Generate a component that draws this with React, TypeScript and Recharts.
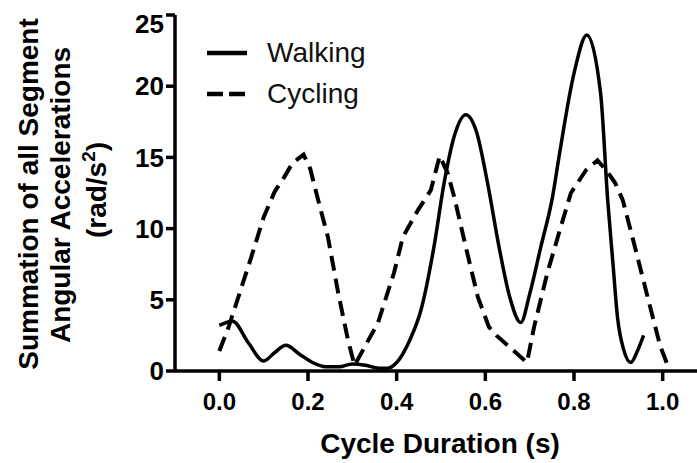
import React from "react";
import { LineChart, Line, XAxis, YAxis } from "recharts";

const walkingX = [0.0, 0.03, 0.065, 0.1, 0.125, 0.15, 0.18, 0.21, 0.24, 0.27, 0.3, 0.33, 0.36, 0.38, 0.4, 0.43, 0.455, 0.484, 0.507, 0.53, 0.556, 0.58, 0.605, 0.631, 0.655, 0.68, 0.7, 0.725, 0.752, 0.766, 0.8, 0.829, 0.86, 0.876, 0.888, 0.898, 0.912, 0.928, 0.943, 0.957];
const walkingY = [3.2, 3.5, 2.0, 0.7, 1.3, 1.8, 1.2, 0.6, 0.3, 0.3, 0.5, 0.4, 0.2, 0.2, 0.6, 2.2, 4.3, 8.7, 13.2, 16.5, 18.0, 16.8, 13.2, 8.7, 5.2, 3.4, 5.4, 8.7, 12.3, 15.0, 20.9, 23.6, 19.5, 12.0, 7.5, 3.8, 1.5, 0.6, 1.4, 2.5];

const cyclingX = [0.0, 0.02, 0.043, 0.072, 0.1, 0.125, 0.146, 0.165, 0.19, 0.205, 0.223, 0.245, 0.268, 0.29, 0.305, 0.358, 0.394, 0.414, 0.448, 0.477, 0.497, 0.515, 0.53, 0.556, 0.583, 0.608, 0.625, 0.694, 0.71, 0.74, 0.77, 0.793, 0.827, 0.853, 0.875, 0.893, 0.91, 0.935, 0.966, 0.995, 1.01];
const cyclingY = [1.4, 3.0, 5.2, 8.0, 10.8, 12.6, 13.6, 14.6, 15.2, 14.2, 12.0, 9.4, 5.5, 2.2, 0.4, 3.4, 6.9, 9.4, 11.3, 12.7, 15.1, 13.9, 12.2, 8.7, 5.2, 3.1, 2.5, 0.6, 3.1, 6.9, 10.1, 12.5, 14.1, 14.8, 14.0, 13.2, 12.0, 9.0, 5.2, 1.7, 0.5];

const xTicks = [0, 0.2, 0.4, 0.6, 0.8, 1.0];
const yTicks = [0, 5, 10, 15, 20, 25];

const walking = walkingX.map((x, i) => ({ x, y: walkingY[i] }));
const cycling = cyclingX.map((x, i) => ({ x, y: cyclingY[i] }));

const FONT = "'Liberation Sans', Arial, Helvetica, sans-serif";
const DASH = "15 8";

const YTick = (props: any) => {
  const { x, y, payload } = props;
  const shift = payload.value === 25 ? 9 : 0;
  return (
    <text x={x} y={y + shift} dy="0.355em" textAnchor="end" fill="#000" fontSize={26} fontWeight="bold" fontFamily={FONT}>
      {payload.value}
    </text>
  );
};

const YTitle = () => (
  <g fontFamily={FONT} fontSize={28} fontWeight="bold" fill="#000" textAnchor="middle">
    <text x={38} y={194} transform="rotate(-90, 38, 194)">Summation of all Segment</text>
    <text x={70} y={195} transform="rotate(-90, 70, 195)">Angular Accelerations</text>
    <text x={106} y={190} transform="rotate(-90, 106, 190)">
      (rad/s<tspan dy={-11} fontSize={19}>2</tspan><tspan dy={11}>)</tspan>
    </text>
  </g>
);

const XTitle = () => (
  <text x={440} y={453} textAnchor="middle" fontFamily={FONT} fontSize={28} fontWeight="bold" fill="#000">
    Cycle Duration (s)
  </text>
);

const legendRows = [
  { name: "Walking", dash: undefined },
  { name: "Cycling", dash: "16 6" },
];

const LegendBox = () => (
  <div style={{ position: "absolute", left: 207, top: 32, fontFamily: FONT, fontSize: 28, color: "#111" }}>
    {legendRows.map((r) => (
      <div key={r.name} style={{ display: "flex", alignItems: "center", height: 41 }}>
        <svg width={40} height={10} style={{ marginRight: 20 }}>
          <line x1={0} y1={5} x2={40} y2={5} stroke="#000" strokeWidth={4.5} strokeDasharray={r.dash} />
        </svg>
        <span>{r.name}</span>
      </div>
    ))}
  </div>
);

export default function App() {
  return (
    <div style={{ position: "absolute", left: 0, top: 0, width: 697, height: 463, overflow: "hidden", background: "#fff" }}>
      <LineChart width={720} height={463} margin={{ top: 15, right: 13, left: 0, bottom: 32 }}>
        <XAxis
          type="number"
          dataKey="x"
          domain={[-0.1, 1.1]}
          ticks={xTicks}
          allowDataOverflow
          tickFormatter={(v: number) => v.toFixed(1)}
          axisLine={{ stroke: "#000", strokeWidth: 3.5 }}
          tickLine={{ stroke: "#000", strokeWidth: 3.5 }}
          tickSize={10}
          tickMargin={12}
          height={60}
          tick={{ fill: "#000", fontSize: 24, fontWeight: "bold", fontFamily: FONT }}
        />
        <YAxis
          type="number"
          domain={[0, 25]}
          ticks={yTicks}
          width={175}
          axisLine={{ stroke: "#000", strokeWidth: 3.5 }}
          tickLine={{ stroke: "#000", strokeWidth: 3.5 }}
          tickSize={9}
          tickMargin={2}
          tick={<YTick />}
        />
        <Line
          data={cycling}
          dataKey="y"
          name="Cycling"
          type="linear"
          stroke="#000"
          strokeWidth={4}
          strokeDasharray={DASH}
          dot={false}
          isAnimationActive={false}
        />
        <Line
          data={walking}
          dataKey="y"
          name="Walking"
          type="monotone"
          stroke="#000"
          strokeWidth={3.5}
          dot={false}
          isAnimationActive={false}
        />
        <YTitle />
        <XTitle />
      </LineChart>
      <LegendBox />
    </div>
  );
}
